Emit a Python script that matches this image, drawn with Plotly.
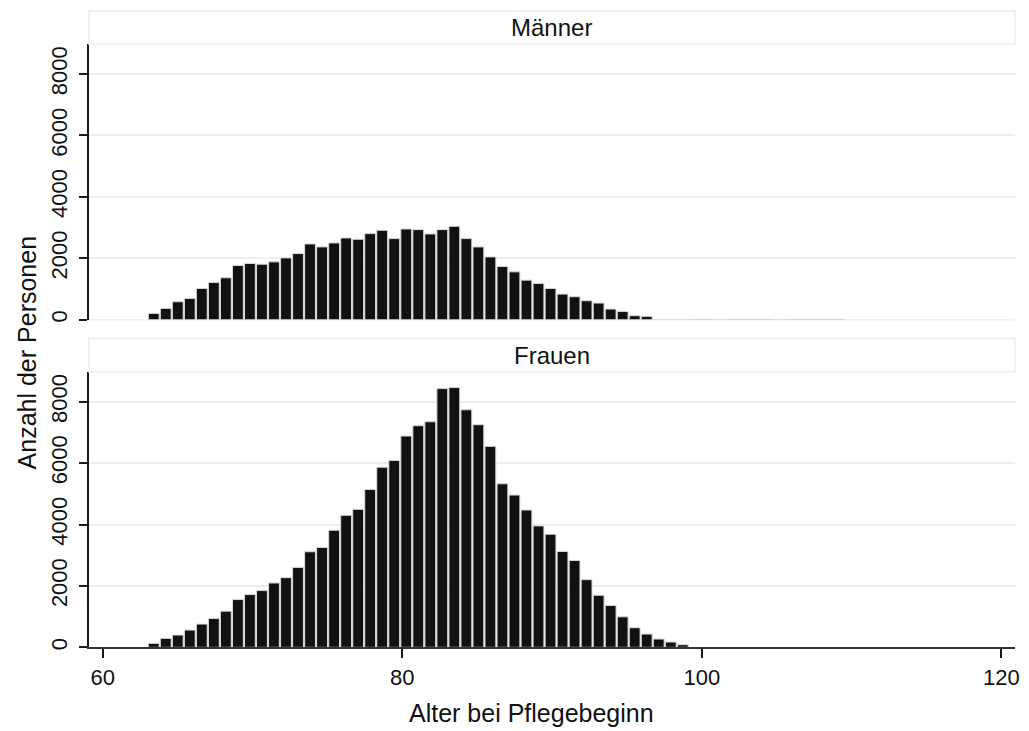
import plotly.graph_objects as go

# ---- data ----
bin_start = 63.0
bin_width = 57.0 / 71.0

maenner = [205, 367, 584, 692, 1017, 1212, 1364, 1764, 1829, 1807, 1883, 2013, 2153,
           2468, 2370, 2500, 2662, 2619, 2803, 2911, 2641, 2955, 2933, 2792, 2933,
           3041, 2641, 2370, 2045, 1732, 1558, 1288, 1180, 1017, 833, 747, 617, 541,
           346, 270, 130, 108, 0, 0, 0, 10, 8, 0, 8, 10, 10, 10, 0, 8, 8, 8, 8, 8]
frauen = [130, 292, 400, 562, 757, 940, 1178, 1556, 1718, 1848, 2096, 2269, 2604,
          3112, 3252, 3814, 4300, 4495, 5143, 5867, 6083, 6882, 7218, 7347, 8427,
          8460, 7736, 7250, 6547, 5326, 4960, 4473, 3955, 3685, 3122, 2830, 2204,
          1696, 1362, 994, 638, 432, 270, 173, 86]

y_ticks = [0, 2000, 4000, 6000, 8000]
x_ticks = [60, 80, 100, 120]
panel_titles = ["Männer", "Frauen"]
x_title = "Alter bei Pflegebeginn"
y_title = "Anzahl der Personen"

centers_m = [bin_start + (i + 0.5) * bin_width for i in range(len(maenner))]
centers_f = [bin_start + (i + 0.5) * bin_width for i in range(len(frauen))]

W, H = 1029, 731
def px(x): return x / W
def py(y): return 1 - y / H

FONT = "Liberation Sans, Arial, sans-serif"
GRID = "#e9f0f2"
AX = "#1a1a1a"

x_dom = [px(89.3), px(1020)]
x_range = [59.07, 120.91]
y_range = [0, 8975]

bar_style = dict(color="#111111", line=dict(color="#d8d8d8", width=1))

fig = go.Figure()
fig.add_trace(go.Bar(x=centers_m, y=maenner, width=bin_width * 0.9,
                     marker=bar_style, xaxis="x", yaxis="y", showlegend=False))
fig.add_trace(go.Bar(x=centers_f, y=frauen, width=bin_width * 0.9,
                     marker=bar_style, xaxis="x2", yaxis="y2", showlegend=False))

yaxis_common = dict(range=y_range, tickvals=y_ticks, ticktext=[str(v) for v in y_ticks],
                    tickangle=-90, showline=True, linecolor=AX, linewidth=2,
                    ticks="outside", ticklen=8, tickwidth=2, tickcolor=AX,
                    showgrid=True, gridcolor=GRID, gridwidth=1.5, zeroline=False,
                    tickfont=dict(family=FONT, size=22, color="#111"),
                    ticklabelstandoff=3)

fig.update_layout(
    width=W, height=H,
    margin=dict(l=0, r=0, t=0, b=0),
    paper_bgcolor="white", plot_bgcolor="white",
    xaxis=dict(domain=x_dom, anchor="y", range=x_range, showticklabels=False,
               showline=False, showgrid=False, zeroline=False, ticks=""),
    yaxis=dict(domain=[py(321), py(44.3)], anchor="x", **yaxis_common),
    xaxis2=dict(domain=x_dom, anchor="y2", range=x_range, tickvals=x_ticks,
                showline=True, linecolor="#333", linewidth=2,
                ticks="outside", ticklen=9, tickwidth=2, tickcolor=AX,
                showgrid=False, zeroline=False,
                tickfont=dict(family=FONT, size=22, color="#111")),
    yaxis2=dict(domain=[py(650), py(373.3)], anchor="x2", **yaxis_common),
)

# baseline grid line at 0 for the upper panel
fig.add_shape(type="line", xref="paper", yref="paper", x0=x_dom[0], x1=x_dom[1],
              y0=py(321), y1=py(321), line=dict(color=GRID, width=1.5), layer="below")

# panel strips
for (top, bot), title in zip([(11, 44.3), (340, 373.3)], panel_titles):
    fig.add_shape(type="rect", xref="paper", yref="paper",
                  x0=x_dom[0], x1=x_dom[1], y0=py(bot), y1=py(top),
                  fillcolor="white", line=dict(color=GRID, width=1.5))
    fig.add_annotation(text=title, xref="paper", yref="paper",
                       x=(x_dom[0] + x_dom[1]) / 2, y=py((top + bot) / 2),
                       showarrow=False, xanchor="center", yanchor="middle",
                       font=dict(family=FONT, size=24, color="#111"))

fig.add_annotation(text=x_title, xref="paper", yref="paper", x=px(534.5), y=py(716),
                   showarrow=False, xanchor="center", yanchor="middle",
                   font=dict(family=FONT, size=25, color="#111"))
fig.add_annotation(text=y_title, xref="paper", yref="paper", x=px(27), y=py(354),
                   showarrow=False, xanchor="center", yanchor="middle", textangle=-90,
                   font=dict(family=FONT, size=25, color="#111"))

fig.write_html("out.html",
               config={"displayModeBar": False},
               post_script="document.body.style.margin='0';"
                           "document.body.style.overflow='hidden';")
